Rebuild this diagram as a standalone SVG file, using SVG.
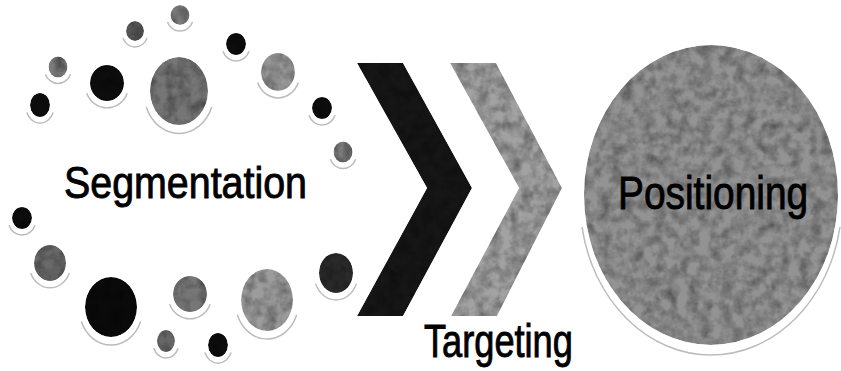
<svg xmlns="http://www.w3.org/2000/svg" width="841" height="371" viewBox="0 0 841 371">
<style>
.bg{fill:#ffffff}
.refl{fill:none;stroke:#bcbcbc;stroke-width:1.5;stroke-dasharray:0 6 38 100}
.dot{filter:url(#tex)}
.lbl{font-family:"Liberation Sans",Arial,sans-serif;fill:#000;stroke:#000;stroke-width:0.9}
</style>
<defs>
<filter id="tex" x="0" y="0" width="100%" height="100%" color-interpolation-filters="sRGB">
<feTurbulence type="fractalNoise" baseFrequency="0.09" numOctaves="3" seed="5" result="n"/>
<feColorMatrix in="n" type="matrix" values="0.33 0.33 0.33 0 0 0.33 0.33 0.33 0 0 0.33 0.33 0.33 0 0 0 0 0 0 1" result="g"/>
<feComponentTransfer in="g" result="g2">
<feFuncR type="linear" slope="1.2" intercept="0.3"/>
<feFuncG type="linear" slope="1.2" intercept="0.3"/>
<feFuncB type="linear" slope="1.2" intercept="0.3"/>
</feComponentTransfer>
<feBlend in="SourceGraphic" in2="g2" mode="multiply" result="b"/>
<feComposite in="b" in2="SourceGraphic" operator="in"/>
</filter>
</defs>
<rect class="bg" x="0" y="0" width="841" height="371"/>

<g id="segmentation">
<g id="seg-reflections">
<ellipse class="refl" pathLength="100" cx="40" cy="107" rx="14" ry="16.2"/>
<ellipse class="refl" pathLength="100" cx="58" cy="69" rx="13.5" ry="14.5"/>
<ellipse class="refl" pathLength="100" cx="107" cy="85" rx="21.7" ry="22.8"/>
<ellipse class="refl" pathLength="100" cx="135" cy="33" rx="12.9" ry="14"/>
<ellipse class="refl" pathLength="100" cx="180" cy="17" rx="13.5" ry="14"/>
<ellipse class="refl" pathLength="100" cx="179" cy="93" rx="34.9" ry="40.4"/>
<ellipse class="refl" pathLength="100" cx="236" cy="46" rx="14" ry="15.1"/>
<ellipse class="refl" pathLength="100" cx="278" cy="74" rx="21.7" ry="23.9"/>
<ellipse class="refl" pathLength="100" cx="322" cy="110" rx="14" ry="15.1"/>
<ellipse class="refl" pathLength="100" cx="343" cy="154" rx="13.5" ry="14.6"/>
<ellipse class="refl" pathLength="100" cx="22" cy="220" rx="14" ry="15.1"/>
<ellipse class="refl" pathLength="100" cx="50" cy="265" rx="20.6" ry="22.8"/>
<ellipse class="refl" pathLength="100" cx="111" cy="309" rx="31.6" ry="36"/>
<ellipse class="refl" pathLength="100" cx="190" cy="296" rx="21.7" ry="22.8"/>
<ellipse class="refl" pathLength="100" cx="166" cy="343" rx="12.9" ry="15.1"/>
<ellipse class="refl" pathLength="100" cx="218" cy="347" rx="14" ry="16.2"/>
<ellipse class="refl" pathLength="100" cx="267" cy="302" rx="31.6" ry="37.1"/>
<ellipse class="refl" pathLength="100" cx="336" cy="275" rx="21.7" ry="25"/>
</g>
<g id="seg-dots">
<ellipse class="dot" cx="40" cy="105" rx="10" ry="12" fill="#0d0d0d"/>
<ellipse class="dot" cx="58" cy="67" rx="9.5" ry="10.5" fill="#7a7a7a"/>
<ellipse class="dot" cx="107" cy="83" rx="17" ry="18" fill="#0d0d0d"/>
<ellipse class="dot" cx="135" cy="31" rx="9" ry="10" fill="#555555"/>
<ellipse class="dot" cx="180" cy="15" rx="9.5" ry="10" fill="#7e7e7e"/>
<ellipse class="dot" cx="179" cy="91" rx="29" ry="34" fill="#767676"/>
<ellipse class="dot" cx="236" cy="44" rx="10" ry="11" fill="#0d0d0d"/>
<ellipse class="dot" cx="278" cy="72" rx="17" ry="19" fill="#979797"/>
<ellipse class="dot" cx="322" cy="108" rx="10" ry="11" fill="#0d0d0d"/>
<ellipse class="dot" cx="343" cy="152" rx="9.5" ry="10.5" fill="#7a7a7a"/>
<ellipse class="dot" cx="22" cy="218" rx="10" ry="11" fill="#0d0d0d"/>
<ellipse class="dot" cx="50" cy="263" rx="16" ry="18" fill="#6a6a6a"/>
<ellipse class="dot" cx="111" cy="307" rx="26" ry="30" fill="#0a0a0a"/>
<ellipse class="dot" cx="190" cy="294" rx="17" ry="18" fill="#777777"/>
<ellipse class="dot" cx="166" cy="341" rx="9" ry="11" fill="#666666"/>
<ellipse class="dot" cx="218" cy="345" rx="10" ry="12" fill="#0d0d0d"/>
<ellipse class="dot" cx="267" cy="300" rx="26" ry="31" fill="#9c9c9c"/>
<ellipse class="dot" cx="336" cy="273" rx="17" ry="20" fill="#2a2a2a"/>
</g>
<text class="lbl" transform="translate(64,198) scale(0.895,1)" x="0" y="0" font-size="44">Segmentation</text>
</g>

<g id="connectors">
<polygon class="dot" points="357,63 403,63 472,188 403,316 357,316 427,188" fill="#161616"/>
<polygon class="dot" points="450,63 496,63 562,188 497,316 451,316 519,188" fill="#a2a2a2"/>
</g>

<g id="targeting">
<text class="lbl" transform="translate(424,357) scale(0.787,1)" x="0" y="0" font-size="46">Targeting</text>
</g>

<g id="positioning">
<ellipse class="refl" pathLength="100" cx="711" cy="200" rx="131" ry="155" style="stroke-dasharray:0 3 44 100"/>
<ellipse class="dot" cx="711" cy="195" rx="127" ry="150" fill="#939393"/>
<text class="lbl" transform="translate(618,209) scale(0.845,1)" x="0" y="0" font-size="46">Positioning</text>
</g>
</svg>
